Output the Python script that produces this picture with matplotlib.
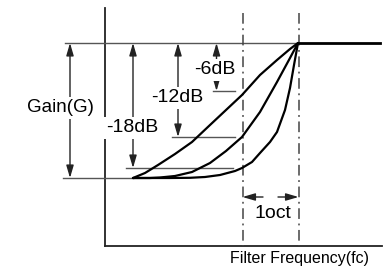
import matplotlib
matplotlib.use("Agg")
import matplotlib.pyplot as plt

plt.rcParams['font.family'] = ['Liberation Sans', 'DejaVu Sans']

# Layout reference levels (pixel-like drawing units, y grows downward)
level_0db = 43
level_bottom = 178
level_labels = ["-6dB", "-12dB", "-18dB"]
level_values = [91, 137, 168]

# Filter response curves (x = frequency position, y = gain position)
curve1_x = [133, 145, 158, 175, 192, 210, 226, 242, 260, 277, 290, 298]
curve1_y = [178, 173, 165, 154, 142, 125, 110, 95, 75, 60, 49, 43]
curve2_x = [133, 150, 160, 175, 192, 210, 226, 242, 260, 277, 290, 298]
curve2_y = [178, 178, 177.5, 176, 172, 163, 151, 137, 112, 82, 58, 43]
curve3_x = [133, 170, 190, 205, 220, 235, 242, 252, 260, 270, 277, 285, 290, 294, 298]
curve3_y = [178, 178, 177.8, 177, 175, 171, 168, 162, 153, 142, 132, 110, 88, 65, 43]
flat_x = [298, 380]
flat_y = [43, 43]

fc_x = 298.5
oct_x = 242.5

fig = plt.figure(figsize=(3.87, 2.68), dpi=100)
ax = fig.add_axes([0, 0, 1, 1])
ax.set_xlim(0, 387)
ax.set_ylim(268, 0)
ax.axis('off')

gray = '#555555'

# axes
ax.plot([105, 105], [8, 246], color='#222222', lw=1.3)
ax.plot([105, 382], [246, 246], color='#222222', lw=1.3)

# reference horizontal lines
ax.plot([65, fc_x], [level_0db, level_0db], color=gray, lw=1)
ax.plot([63, 133], [level_bottom, level_bottom], color=gray, lw=1)
ax.plot([213, 235], [level_values[0]] * 2, color=gray, lw=1)
ax.plot([172, 235], [level_values[1]] * 2, color=gray, lw=1)
ax.plot([126, 233], [level_values[2]] * 2, color=gray, lw=1)

# dash-dot vertical lines
for xv in (oct_x, fc_x):
    ax.plot([xv, xv], [13, 246], color='#444444', lw=1.1,
            dashes=(7, 3, 1.2, 3))

# curves
for cx, cy in ((curve1_x, curve1_y), (curve2_x, curve2_y), (curve3_x, curve3_y)):
    ax.plot(cx, cy, color='black', lw=1.6, solid_capstyle='round')
ax.plot(flat_x, flat_y, color='black', lw=2.0)

aprops = dict(arrowstyle='<|-|>,head_length=0.75,head_width=0.22',
              color='#222222', lw=1, shrinkA=0, shrinkB=0, mutation_scale=10)

def varrow(x, y0, y1):
    ax.annotate('', xy=(x, y0), xytext=(x, y1), arrowprops=aprops, zorder=2)

varrow(70, level_0db, level_bottom)
varrow(133, level_0db, level_values[2])
varrow(178, level_0db, level_values[1])
varrow(216.5, level_0db, level_values[0])

bb = dict(facecolor='white', edgecolor='none', pad=1.5)
fs = 14
ax.text(60, 108, "Gain(G)", fontsize=13.5, ha='center', va='center', bbox=bb, zorder=3)
ax.text(132, 128, level_labels[2], fontsize=fs, ha='center', va='center', bbox=bb, zorder=3)
ax.text(177.5, 98, level_labels[1], fontsize=fs, ha='center', va='center', bbox=bb, zorder=3)
ax.text(215, 70, level_labels[0], fontsize=fs, ha='center', va='center', bbox=bb, zorder=3)

# 1 oct arrows
hprops = dict(arrowstyle='-|>,head_length=0.75,head_width=0.22',
              color='#222222', lw=1, shrinkA=0, shrinkB=0, mutation_scale=10)
ax.annotate('', xy=(oct_x, 197), xytext=(263, 197), arrowprops=hprops)
ax.annotate('', xy=(fc_x, 197), xytext=(278, 197), arrowprops=hprops)
ax.text(273, 213, "1oct", fontsize=fs, ha='center', va='center')

ax.text(300, 259, "Filter Frequency(fc)", fontsize=11.5, ha='center', va='center')

fig.savefig('out.png', dpi=100)
